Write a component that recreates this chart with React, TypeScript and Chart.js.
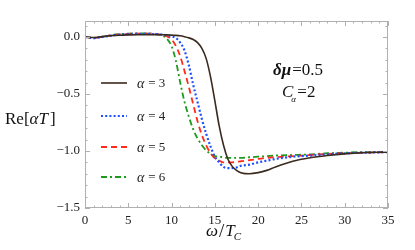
import React, { useEffect, useRef } from "react";
import { Chart, registerables } from "chart.js";

Chart.register(...registerables);

const omega = [0, 1, 2, 3, 4, 5, 6, 7, 8, 9, 9.5, 10, 10.5, 11, 11.5, 12, 12.5, 13, 13.5, 14, 14.5, 15, 15.5, 16, 16.5, 17, 17.5, 18, 19, 20, 21, 22, 24, 26, 28, 30, 32, 35];

const alpha3 = [0, -0.005, 0.003, 0.01, 0.015, 0.018, 0.02, 0.02, 0.02, 0.019, 0.018, 0.016, 0.014, 0.01, 0.002, -0.008, -0.022, -0.05, -0.1, -0.19, -0.35, -0.56, -0.78, -0.95, -1.07, -1.135, -1.17, -1.19, -1.2, -1.19, -1.17, -1.14, -1.09, -1.06, -1.04, -1.025, -1.015, -1.01];
const alpha4 = [0, -0.01, 0.0, 0.012, 0.02, 0.025, 0.027, 0.027, 0.025, 0.02, 0.015, 0.005, -0.01, -0.05, -0.12, -0.25, -0.42, -0.57, -0.72, -0.85, -0.96, -1.05, -1.1, -1.14, -1.15, -1.15, -1.145, -1.13, -1.12, -1.1, -1.085, -1.07, -1.05, -1.04, -1.03, -1.02, -1.015, -1.01];
const alpha5 = [0, -0.008, 0.002, 0.015, 0.022, 0.027, 0.03, 0.03, 0.027, 0.015, 0.005, -0.02, -0.08, -0.17, -0.3, -0.44, -0.59, -0.74, -0.86, -0.95, -1.02, -1.065, -1.085, -1.1, -1.1, -1.1, -1.095, -1.09, -1.08, -1.07, -1.06, -1.055, -1.045, -1.035, -1.025, -1.02, -1.015, -1.01];
const alpha6 = [0, -0.008, 0.002, 0.015, 0.025, 0.03, 0.032, 0.032, 0.028, 0.01, -0.02, -0.08, -0.21, -0.4, -0.57, -0.7, -0.81, -0.89, -0.95, -0.995, -1.025, -1.045, -1.05, -1.055, -1.06, -1.06, -1.06, -1.06, -1.055, -1.05, -1.045, -1.04, -1.035, -1.03, -1.02, -1.015, -1.01, -1.01];

const seriesLabels = ["3", "4", "5", "6"];
const xTicks = [0, 5, 10, 15, 20, 25, 30, 35];
const yTicks = [-1.5, -1.0, -0.5, 0.0];

const SERIF = "Liberation Serif";

const styles = [
  { color: "#3b2a1e", dash: [] as number[], width: 1.6 },
  { color: "#1f4fff", dash: [2, 2.2], width: 2.2 },
  { color: "#ff2a1a", dash: [6, 4], width: 1.8 },
  { color: "#1e9a1e", dash: [6, 3, 2, 3], width: 1.8 },
];

const framePlugin = {
  id: "framePlugin",
  afterDraw(chart: any) {
    const { ctx, chartArea: a, scales } = chart;
    const xs = scales.x;
    const ys = scales.y;
    ctx.save();
    ctx.strokeStyle = "#b0b0b0";
    ctx.lineWidth = 1;
    ctx.setLineDash([]);
    ctx.strokeRect(a.left + 0.5, a.top + 0.5, a.right - a.left - 1, a.bottom - a.top - 1);
    for (let v = 0; v <= 35; v += 1) {
      const px = Math.round(xs.getPixelForValue(v)) + 0.5;
      const len = v % 5 === 0 ? 5 : 2.5;
      ctx.beginPath();
      ctx.moveTo(px, a.bottom);
      ctx.lineTo(px, a.bottom - len);
      ctx.moveTo(px, a.top);
      ctx.lineTo(px, a.top + len);
      ctx.stroke();
    }
    for (let i = -15; i <= 1; i += 1) {
      const v = i / 10;
      const py = Math.round(ys.getPixelForValue(v)) + 0.5;
      const len = i % 5 === 0 ? 5 : 2.5;
      ctx.beginPath();
      ctx.moveTo(a.left, py);
      ctx.lineTo(a.left + len, py);
      ctx.moveTo(a.right, py);
      ctx.lineTo(a.right - len, py);
      ctx.stroke();
    }
    // legend
    const legendY = [83, 116, 147, 177];
    seriesLabels.forEach((lab, i) => {
      const s = styles[i];
      ctx.strokeStyle = s.color;
      ctx.lineWidth = s.width;
      ctx.setLineDash(s.dash);
      ctx.beginPath();
      ctx.moveTo(101, legendY[i]);
      ctx.lineTo(127, legendY[i]);
      ctx.stroke();
      ctx.setLineDash([]);
      ctx.fillStyle = "#222";
      ctx.textBaseline = "middle";
      ctx.textAlign = "left";
      ctx.font = `italic 14px ${SERIF}`;
      ctx.fillText("\u03b1", 137, legendY[i] + 1);
      ctx.font = `13px ${SERIF}`;
      ctx.fillText(" = " + lab, 145, legendY[i] + 1);
    });
    // annotation
    ctx.fillStyle = "#111";
    ctx.textBaseline = "alphabetic";
    ctx.font = `bold italic 17px ${SERIF}`;
    ctx.fillText("\u03b4\u03bc", 273, 75);
    let w = ctx.measureText("\u03b4\u03bc").width;
    ctx.font = `17px ${SERIF}`;
    ctx.fillText("=0.5", 274 + w, 75);
    ctx.font = `italic 17px ${SERIF}`;
    ctx.fillText("C", 282, 97);
    w = ctx.measureText("C").width;
    ctx.font = `italic 9px ${SERIF}`;
    ctx.fillText("\u03b1", 282 + w - 2, 102);
    ctx.font = `17px ${SERIF}`;
    ctx.fillText("=2", 282 + w + 4, 97);
    // y axis title
    ctx.fillStyle = "#111";
    ctx.font = `17px ${SERIF}`;
    let x = 5;
    ctx.fillText("Re[", x, 124);
    x += ctx.measureText("Re[").width;
    ctx.font = `italic 17px ${SERIF}`;
    ctx.fillText("\u03b1T", x, 124);
    x += ctx.measureText("\u03b1T").width + 2;
    ctx.font = `17px ${SERIF}`;
    ctx.fillText("]", x, 124);
    // x axis title
    x = 206;
    ctx.font = `italic 17px ${SERIF}`;
    ctx.fillText("\u03c9", x, 236);
    x += ctx.measureText("\u03c9").width + 1;
    ctx.font = `19px ${SERIF}`;
    ctx.fillText("/", x, 237);
    x += ctx.measureText("/").width + 1;
    ctx.font = `italic 17px ${SERIF}`;
    ctx.fillText("T", x, 236);
    x += ctx.measureText("T").width - 1;
    ctx.font = `italic 11px ${SERIF}`;
    ctx.fillText("C", x, 240);
    ctx.restore();
  },
};

export default function App() {
  const ref = useRef<HTMLCanvasElement | null>(null);
  useEffect(() => {
    document.body.style.margin = "0";
    const canvas = ref.current;
    if (!canvas) return;
    const series = [alpha3, alpha4, alpha5, alpha6];
    const chart = new Chart(canvas, {
      type: "line",
      data: {
        datasets: series.map((vals, i) => ({
          label: "\u03b1 = " + seriesLabels[i],
          data: omega.map((o, j) => ({ x: o, y: vals[j] })),
          borderColor: styles[i].color,
          borderWidth: styles[i].width,
          borderDash: styles[i].dash,
          pointRadius: 0,
          fill: false,
          cubicInterpolationMode: "monotone" as const,
        })),
      },
      options: {
        responsive: false,
        animation: false,
        layout: { padding: { top: 21, right: 27, left: 0, bottom: 0 } },
        plugins: { legend: { display: false }, tooltip: { enabled: false } },
        scales: {
          x: {
            type: "linear",
            min: 0,
            max: 35,
            grid: { display: false, drawTicks: false },
            border: { display: false },
            afterBuildTicks: (s: any) => {
              s.ticks = xTicks.map((v) => ({ value: v }));
            },
            afterFit: (s: any) => {
              s.height = 42;
            },
            ticks: {
              padding: 5,
              color: "#222",
              font: { family: SERIF, size: 13 },
              maxRotation: 0,
              callback: (v: any) => String(v),
            },
          },
          y: {
            type: "linear",
            min: -1.5,
            max: 0.14,
            grid: { display: false, drawTicks: false },
            border: { display: false },
            afterBuildTicks: (s: any) => {
              s.ticks = yTicks.map((v) => ({ value: v }));
            },
            afterFit: (s: any) => {
              s.width = 85;
            },
            ticks: {
              padding: 5,
              color: "#222",
              font: { family: SERIF, size: 13 },
              callback: (v: any) => Number(v).toFixed(1).replace("-", "\u2212"),
            },
          },
        },
      },
      plugins: [framePlugin],
    });
    return () => chart.destroy();
  }, []);
  return <canvas ref={ref} width={415} height={250} style={{ display: "block" }} />;
}
